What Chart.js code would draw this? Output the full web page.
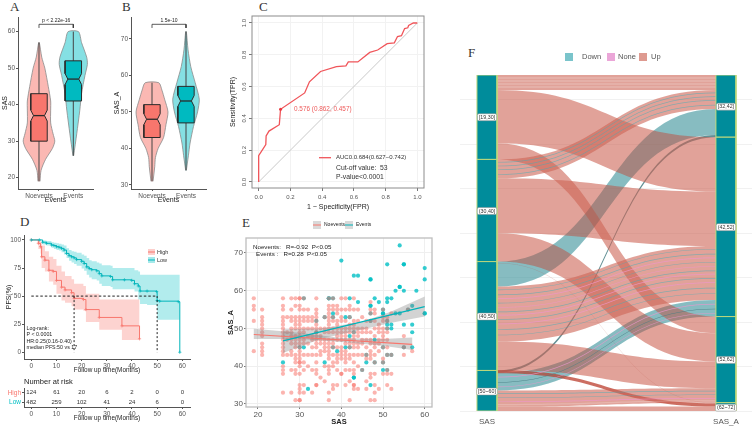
<!DOCTYPE html>
<html><head><meta charset="utf-8">
<script src="https://cdn.jsdelivr.net/npm/chart.js@4"></script>
<style>
html,body{margin:0;padding:0;background:#fff;width:752px;height:432px;overflow:hidden}
canvas{position:absolute;filter:blur(.3px)}
.letter{position:absolute;font:13px "Liberation Serif",serif;color:#333;line-height:13px}
</style></head><body>
<div class="letter" style="left:10px;top:0">A</div>
<div class="letter" style="left:122px;top:0">B</div>
<div class="letter" style="left:259px;top:0">C</div>
<div class="letter" style="left:20px;top:215px">D</div>
<div class="letter" style="left:242px;top:216px">E</div>
<div class="letter" style="left:468px;top:46px">F</div>
<script>
// ---------- Panel A / B : violins (value, half width) and box statistics ----------
const eventNames=['Noevents','Events'];
const aNoY=[19,22,25,28,30,32,35,38.5,41,45,50,53,57];
const aNoW=[.03,.06,.19,.39,.46,.41,.34,.34,.34,.27,.17,.08,.01];
const aEvY=[26,32,38.5,43,48,51,53,57,60];
const aEvW=[.01,.1,.19,.24,.34,.41,.39,.24,.15];
const aNoBox=[19,30,37,43,57];
const aEvBox=[26,41,47,52,60];
const bNoY=[31,35,37.5,40,43,46.5,50,53.5,56,58];
const bNoW=[.03,.08,.1,.18,.34,.41,.47,.37,.29,.2];
const bEvY=[34,38,41.5,46,50,53.5,58,62.4,67,72];
const bEvW=[.01,.07,.12,.22,.34,.39,.27,.14,.06,.01];
const bNoBox=[31,43,48,52,58];
const bEvBox=[34,47,53,57,72];
const aTicks=[20,30,40,50,60];
const bTicks=[30,40,50,60,70];
// ---------- Panel C : ROC ----------
const rocFPR=[0,0,.045,.047,.065,.13,.138,.29,.32,.39,.49,.55,.565,.625,.7,.75,.81,.855,.875,.9,.92,.94,.945,.975,1];
const rocTPR=[0,.165,.235,.29,.32,.36,.457,.56,.63,.695,.725,.73,.755,.755,.815,.83,.87,.875,.915,.92,.965,.97,.985,1,1];
const rocTicks=[0,.2,.4,.6,.8,1];
// ---------- Panel D : survival ----------
const lowTime=[0,3.2,4.5,6,8,9,10,11,12,13,14,15,16,17,18,20,21,22,23,24,26,27,28,31.5,32.3,37,39.9,41,42.5,43.2,46,49.8,50,51,58.4,59];
const lowSurv=[100,100,98,97,95.5,95,94,93.5,92.5,91,88,86,85,84,82.5,81,79,76,74.5,73.5,72.5,70,68,67.5,64.5,64.5,64,61,59,54.5,54.5,54,46,45.5,45,0];
const lowUpper=[100,100,99.5,99,98,97.5,97,96.5,96,95,92.5,91,90,89.5,88.5,87,86,84,82,81,80,79,77.5,77,75,75,75,73,72,69,69,69,69,69,69,69];
const lowLower=[100,100,96,95,93,92,91,90.5,89,87,84,81.5,80,78.5,77,74.5,72.5,69,66.5,65,64,61,59,58,56,56,56,54,47,43,42,42,29,29,29,29];
const highTime=[0,2.8,3.7,4.1,5.4,7,8.7,10,12,13.4,16,17,20.7,21.7,27,36,43];
const highSurv=[100,97,94,85,82,73,72,64,58,55.5,53,48,47,38,31,23.5,12];
const highUpper=[100,100,98,95,90,85,83,77,72,68,65,61,59,52,47,47,47];
const highLower=[100,92,88,75,72,63,60,52,46,44,41,38,37,27,20,11,11];
const medianTimes=[17,50];
const medianLevel=50;
const pfsTicks=[0,25,50,75,100];
const timeTicks=[0,10,20,30,40,50,60];
const riskRows=['High','Low'];
const riskHigh=[124,61,20,6,2,0,0];
const riskLow=[482,259,102,41,24,6,0];
const logRankLines=['Log-rank:','P < 0.0001','HR:0.25(0.16-0.40)','median PFS:50 vs 17'];
// ---------- Panel E : scatter (SAS, SAS_A) ----------
const noeventsColumns=[
[19,[58,56,55,52,44]],
[21,[55,53,52,51,50,49,48,46,45,44,43]],
[26,[58,56,55,53,52,51,50,49,48,47,46,45,44,43,40,39,38,33]],
[27,[53,49,47,43]],
[28,[58,55,53,52,50,49,48,47,46,44,43,39,33]],
[29,[58,56,53,52,51,50,48,47,46,45,43,42,41,39,38,31]],
[30,[58,58,56,55,53,52,51,50,49,48,47,46,45,44,43,42,41,41,40,38,35,34,33,31,31]],
[31,[58,55,53,52,50,49,47,46,43,41,39,35,33]],
[32,[55,53,52,50,48,46,43,40]],
[33,[53,52,50,48,47,45,43,39,33]],
[34,[58,55,54,53,52,51,50,49,48,47,46,45,43,41,39,38,35,35]],
[35,[50,48,47,46,44,43,37]],
[36,[53,50,49,47,46,45,44,40,36]],
[37,[58,56,55,54,53,52,51,50,49,47,46,45,44,43,42,40,39,38,33,31]],
[38,[58,56,55,53,52,50,49,47,46,45,43,41,40,35,34]],
[39,[56,55,54,52,51,50,49,48,47,45,43,42,41,39,35]],
[40,[58,55,53,52,50,49,48,47,45,44,43,42,38,38]],
[41,[58,55,52,50,49,48,47,46,44,43,42,41,39,35]],
[42,[56,55,53,51,50,49,47,46,45,43,42,39,36,31]],
[43,[58,55,52,51,50,49,48,47,46,45,43,41,39,38,35,35,34]],
[44,[55,52,50,49,48,46,45,43,40,34]],
[45,[53,50,49,47,46,43,39]],
[46,[52,50,49,47,45,43,42,36,34]],
[47,[57,55,54,52,49,47,46,44,43,42,38,37,31]],
[48,[55,54,52,50,48,46,45,43,41,38,35,33,31]],
[49,[51,50,49,47,46,44,34]],
[50,[55,53,52,50,49,48,47,45,42,41,38]],
[51,[53,52,50,49,47,45,43,39,38,35]],
[52,[54,43,38,34]],
[55,[48,45,43]],
[56,[55]],
[57,[44]]];
const eventsSAS=[54,40,51,55,55,60,43,44,47,47,60,53,54,54,55,58,52,51,51,37,37,38,42,48,44,49,47,47,57,50,50,56,47,41,42,38,36,34,31,50,53,54,60,60,51,51,52,51,52,55,57,57,48,57,55,50,31,43,46,46,52,51,26,36,42,38,39,45,43,43,47,32,50,51,50,48,38,47,42,41,30,34];
const eventsSASA=[72,68,67,67,67,66,64,64,63,63,63,60,61,61,60,60,58,58,57,58,58,54,58,58,57,57,56,56,56,55,54,55,54,53,53,53,53,52,58,54,54,54,54,54,52,51,51,50,50,51,51,49,47,45,45,45,45,49,43,41,43,43,41,41,45,45,44,39,37,37,35,34,39,39,41,41,58,52,48,45,45,49];
const noeventsFitX=[19,57];
const noeventsFitY=[48.4,45.8];
const eventsFitX=[26,60];
const eventsFitY=[46.7,55.8];
const noeventsBandX=[19,30,40,50,57];
const noeventsBandLo=[47.2,47.2,46.4,45.4,44.3];
const noeventsBandHi=[49.9,48.9,47.5,47.2,47.6];
const eventsBandX=[26,35,45,52,60];
const eventsBandLo=[43.5,47.2,49.7,51.5,53.2];
const eventsBandHi=[49.8,50,51.8,54.5,58.5];
const sasTicks=[20,30,40,50,60];
const sasATicks=[30,40,50,60,70];
// ---------- Panel F : alluvial (stack heights, counted from the bottom) ----------
const axisNames=['SAS','SAS_A'];
const leftStrata=[['[19,30]',605,453,529],['(30,40]',453,269,360],['(40,50]',269,73,170],['[50~60]',73,0,35]];
const rightStrata=[['[32,42]',605,493,548],['(42,52]',493,170,331],['(52,62]',170,15,92],['(62~72]',15,0,6]];
const flowLeftTop=[269,73,69,267,605,578,482,453,419,320,224,125,74,37,8];
const flowLeftBot=[224,69,37,266,578,482,453,419,320,269,125,74,68,8,0];
const flowRightTop=[544,497,200,15,605,493,170,578,395,140,297,89,14,41,8];
const flowRightBot=[497,493,170,14,578,395,140,544,297,89,200,41,8,15,0];
const flowKind=['Down','Thin','Down','Faint','Up','Up','Up','Up','Up','Up','Up','Up','Deep','Up','Up'];
const stripeFlow=[4,4,4,4,7,7,7,7,10,10,10,10,10,10,10,10,10,10,10,2,2,2,13,13,13,13];
const stripeFrac=[.2,.4,.6,.8,.15,.35,.55,.8,.06,.15,.22,.3,.38,.46,.52,.6,.68,.78,.88,.25,.55,.8,.2,.45,.7,.88];
const stripeKind=['Lite','Lite','Lite','Lite','Down','Down','Down','Down','Down','Down','None','Down','None','Down','None','Down','None','Down','Down','None','Thin','None','Down','Down','None','Lite'];
const legendNames=['Down','None','Up'];
const gridCounts=[0,80,160,240,320,400,480,560];
</script>
<script>
Chart.defaults.font.family='"Liberation Sans",Arial,sans-serif';
Chart.defaults.animation=false;
const RED='#F8766D',TEAL='#00BFC4',GREY='#555';
const zip=(xs,ys)=>xs.map((x,i)=>({x,y:ys[i]}));
function text(c,s,x,y,o={}){c.save();c.font=o.font||'6px "Liberation Sans",Arial,sans-serif';c.fillStyle=o.color||'#333';c.textAlign=o.align||'left';c.textBaseline='middle';c.translate(x,y);if(o.rot)c.rotate(o.rot);c.fillText(s,0,0);c.restore();}
function line(c,x0,y0,x1,y1,col,w,dash){c.save();c.strokeStyle=col;c.lineWidth=w||1;if(dash)c.setLineDash(dash);c.beginPath();c.moveTo(x0,y0);c.lineTo(x1,y1);c.stroke();c.restore();}
function panel(rect,plot,datasets,sx,sy,deco,plugins){
  const cv=document.createElement('canvas');
  cv.width=rect.r-rect.l;cv.height=rect.b-rect.t;
  cv.style.left=rect.l+'px';cv.style.top=rect.t+'px';cv.style.width=cv.width+'px';cv.style.height=cv.height+'px';
  document.body.appendChild(cv);
  datasets.forEach((d,i)=>{d.order=-i;if(d.pointRadius===undefined)d.pointRadius=0;});
  sx.afterFit=s=>{s.height=rect.b-plot.b;};
  sy.afterFit=s=>{s.width=plot.l-rect.l;};
  const inline=[{id:'deco',afterDatasetsDraw(ch){if(!deco)return;const c=ch.ctx;c.save();c.translate(-rect.l,-rect.t);
     deco(c,v=>ch.scales.x.getPixelForValue(v)+rect.l,v=>ch.scales.y.getPixelForValue(v)+rect.t,ch,rect);c.restore();}}];
  return new Chart(cv,{type:'line',data:{datasets},plugins:inline.concat(plugins||[]),options:{responsive:false,animation:false,
    layout:{padding:{top:plot.t-rect.t,right:rect.r-plot.r,left:0,bottom:0}},
    plugins:{legend:{display:false},tooltip:{enabled:false},title:{display:false}},
    scales:{x:sx,y:sy}}});
}
const setTicks=arr=>s=>{s.ticks=arr.map(v=>({value:v}));};
function axis(min,max,ticks,extra){return Object.assign({type:'linear',min,max,afterBuildTicks:setTicks(ticks),
   grid:{drawOnChartArea:false,tickLength:2,color:'#555'},border:{color:'#555',width:1},
   ticks:{font:{size:6.5},color:GREY,padding:1,autoSkip:false,maxRotation:0,minRotation:0}},extra||{});}
function title(t,size,pad,bold){return {display:true,text:t,color:'#222',font:{size,weight:bold?'bold':'normal'},padding:pad};}
function area(d,fillCol,edge,w){return {data:d,fill:'shape',backgroundColor:fillCol,borderColor:edge,borderWidth:w};}
function lineSet(d,col,w,dash){return {data:d,fill:false,borderColor:col,borderWidth:w,borderDash:dash||[]};}
function violinPts(c,ys,ws){return ys.map((y,i)=>({x:c-ws[i],y})).concat(ys.map((y,i)=>({x:c+ws[i],y})).reverse());}
function boxPts(c,st,n){const[,q1,m,q3]=st,h=.24,k=.16;
  return [{x:c-h,y:q1},{x:c+h,y:q1},{x:c+h,y:m-n},{x:c+k,y:m},{x:c+h,y:m+n},{x:c+h,y:q3},{x:c-h,y:q3},{x:c-h,y:m+n},{x:c-k,y:m},{x:c-h,y:m-n},{x:c-h,y:q1}];}
function violinSets(c,ys,ws,st,col,fill,n){const[lo,,m,,hi]=st,k=.16;
  const v=area(violinPts(c,ys,ws),fill,'#8a8a8a',.8);v.tension=.25;
  return [v,lineSet([{x:c,y:lo},{x:c,y:hi}],'#444',1),area(boxPts(c,st,n),col,'#2b2b2b',1),lineSet([{x:c-k,y:m},{x:c+k,y:m}],'#2b2b2b',1.3)];}
function violinPanel(rect,plot,xr,yr,ticks,yName,sets,brY,brLab){
  const sx=axis(xr[0],xr[1],[1,2],{title:title('Events',7,{top:0,bottom:5.5})});
  sx.ticks.callback=v=>eventNames[v-1];sx.ticks.font={size:6.5};
  const sy=axis(yr[0],yr[1],ticks,{title:title(yName,7,{top:1,bottom:0})});
  const ds=sets.concat([lineSet([{x:1,y:brY[1]},{x:1,y:brY[0]},{x:2,y:brY[0]},{x:2,y:brY[1]}],'#333',.8)]);
  panel(rect,plot,ds,sx,sy,(c,X,Y)=>text(c,brLab,X(1.5),Y(brY[0])-3.5,{align:'center',font:'5px "Liberation Sans",Arial,sans-serif',color:'#222'}));
}
const RF='rgba(248,118,109,.52)',TF='rgba(0,191,196,.48)';
violinPanel({l:0,t:10,r:112,b:210},{l:18,r:93,t:17,b:189},[.388,2.574],[16.9,64],aTicks,'SAS',
  violinSets(1,aNoY,aNoW,aNoBox,RED,RF,1.5).concat(violinSets(2,aEvY,aEvW,aEvBox,'#00BAC0',TF,1.5)),[62,61],'p < 2.22e-16');
violinPanel({l:112,t:10,r:225,b:210},{l:131,r:206,t:17,b:189},[.382,2.588],[28.9,76],bTicks,'SAS_A',
  violinSets(1,bNoY,bNoW,bNoBox,RED,RF,1.5).concat(violinSets(2,bEvY,bEvW,bEvBox,'#00BAC0',TF,1.5)),[74,73],'1.5e-10');

// ---------- C ----------
(function(){
  const f=v=>v.toFixed(1);
  const faint={drawOnChartArea:true,tickLength:3,color:'#f2f2f2',tickColor:'#777'};
  const sx=axis(-.042,1.042,rocTicks,{grid:faint,border:{display:false},title:title('1 − Specificity(FPR)',7,{top:0,bottom:3})});
  sx.ticks.callback=f;sx.ticks.font={size:6};sx.ticks.padding=3;
  const sy=axis(-.038,1.044,rocTicks,{grid:faint,border:{display:false},title:title('Sensitivity(TPR)',7,{top:1,bottom:0})});
  sy.ticks.callback=f;sy.ticks.font={size:6};sy.ticks.minRotation=90;sy.ticks.maxRotation=90;sy.ticks.crossAlign='center';sy.ticks.padding=0;
  panel({l:228,t:8,r:430,b:214},{l:252,r:424,t:16,b:188},[
    lineSet([{x:0,y:0},{x:1,y:1}],'#c9c9c9',1),
    lineSet(zip(rocFPR,rocTPR),'#F0555A',1.3),
    {data:[{x:.138,y:.457}],showLine:false,pointRadius:1.5,pointBackgroundColor:'#E83A40',pointBorderWidth:0}
  ],sx,sy,(c,X,Y,ch,r)=>{
    const a=ch.chartArea;c.strokeStyle='#8c8c8c';c.lineWidth=1;c.strokeRect(r.l+a.left,r.t+a.top,a.right-a.left,a.bottom-a.top);
    text(c,'0.576 (0.862, 0.457)',294,109,{color:'#EE5A5A',font:'6.4px "Liberation Sans",Arial,sans-serif'});
    line(c,319,157.7,331,157.7,'#F0555A',1.3);
    text(c,'AUC0.0.684(0.627−0.742)',336,157.7,{font:'6px "Liberation Sans",Arial,sans-serif'});
    text(c,'Cut-off value:  53',336,168,{font:'6.8px "Liberation Sans",Arial,sans-serif'});
    text(c,'P-value<0.0001',336,176.7,{font:'6.8px "Liberation Sans",Arial,sans-serif'});
  });
})();

// ---------- D ----------
(function(){
  const sx=axis(-2.9,63.05,timeTicks,{title:title('Follow up time(Months)',6.4,{top:0,bottom:3.8})});
  const sy=axis(-6,104.4,pfsTicks,{title:title('PFS(%)',7,{top:4.5,bottom:0})});
  const up=(t,v,fillCol)=>({data:zip(t,v),stepped:true,fill:'+1',backgroundColor:fillCol,borderWidth:0,borderColor:'transparent'});
  const lo=(t,v)=>({data:zip(t,v),stepped:true,fill:false,borderWidth:0,borderColor:'transparent'});
  const curve=(t,v,col)=>({data:zip(t,v),stepped:true,fill:false,borderColor:col,borderWidth:1,pointStyle:'cross',pointRadius:1.6,pointBorderColor:col,pointBorderWidth:.7});
  panel({l:0,t:228,r:200,b:378},{l:24,r:190,t:235,b:359},[
    up(lowTime,lowUpper,'rgba(0,191,196,.3)'),
    lo(lowTime,lowLower),
    up(highTime,highUpper,'rgba(248,118,109,.32)'),
    lo(highTime,highLower),
    curve(highTime,highSurv,RED),
    curve(lowTime,lowSurv,'#00B4BA'),
    lineSet([{x:0,y:medianLevel},{x:medianTimes[1],y:medianLevel}],'#222',1,[2.5,2]),
    lineSet([{x:medianTimes[0],y:medianLevel},{x:medianTimes[0],y:0}],'#222',1,[2,2]),
    lineSet([{x:medianTimes[1],y:medianLevel},{x:medianTimes[1],y:0}],'#222',1,[2,2])
  ],sx,sy,(c)=>{
    [[329,0],[335,1],[342,2],[348,3]].forEach(([y,i])=>text(c,logRankLines[i],26.5,y,{font:'5.3px "Liberation Sans",Arial,sans-serif',color:'#222'}));
    c.fillStyle='rgba(248,118,109,.35)';c.fillRect(148,249,7,6);line(c,148,252,155,252,RED,1);
    c.fillStyle='rgba(0,191,196,.35)';c.fillRect(148,257,7,6);line(c,148,260,155,260,'#00B4BA',1);
    text(c,'High',157,252,{font:'5.5px "Liberation Sans",Arial,sans-serif'});
    text(c,'Low',157,260,{font:'5.5px "Liberation Sans",Arial,sans-serif'});
  });
  const rx=axis(-2.9,63.05,timeTicks,{title:title('Follow up time(Months)',6.4,{top:0,bottom:9.5})});
  const ry={type:'category',labels:riskRows,offset:true,grid:{drawOnChartArea:false,tickLength:2,color:'#555'},border:{color:'#555'},
    ticks:{font:{size:6.5},padding:1,autoSkip:false,color:c=>c.index===0?RED:TEAL}};
  panel({l:0,t:378,r:200,b:432},{l:24,r:190,t:388,b:407},[
    {data:timeTicks.map((x,i)=>({x,y:riskRows[0]})),showLine:false},
    {data:timeTicks.map((x,i)=>({x,y:riskRows[1]})),showLine:false}
  ],rx,ry,(c,X,Y)=>{
    text(c,'Number at risk',24,382,{font:'7.5px "Liberation Sans",Arial,sans-serif',color:'#222'});
    timeTicks.forEach((t,i)=>{text(c,String(riskHigh[i]),X(t),Y(riskRows[0]),{align:'center',font:'6px "Liberation Sans",Arial,sans-serif'});
      text(c,String(riskLow[i]),X(t),Y(riskRows[1]),{align:'center',font:'6px "Liberation Sans",Arial,sans-serif'});});
  });
})();

// ---------- E ----------
(function(){
  const g={drawOnChartArea:true,tickLength:2,color:'#efefef',tickColor:'#777'};
  const sx=axis(17.13,61.75,sasTicks,{grid:g,border:{display:false},title:title('SAS',7.5,{top:0,bottom:4},true)});
  sx.ticks.font={size:8};
  const sy=axis(29.2,73.97,sasATicks,{grid:g,border:{display:false},title:title('SAS_A',7.5,{top:.5,bottom:0},true)});
  sy.ticks.font={size:8};
  const noPts=[];noeventsColumns.forEach(([x,ys])=>ys.forEach(y=>noPts.push({x,y})));
  const pts=(d,col)=>({data:d,showLine:false,pointRadius:2.1,pointBackgroundColor:col,pointBorderWidth:0});
  const bandPts=(xs,lo,hi)=>zip(xs,lo).concat(zip(xs,hi).reverse());
  panel({l:226,t:215,r:436,b:430},{l:246,r:432,t:238,b:407},[
    pts(zip(eventsSAS,eventsSASA),'rgba(0,191,196,.8)'),
    pts(noPts,'rgba(248,118,109,.55)'),
    area(bandPts(noeventsBandX,noeventsBandLo,noeventsBandHi),'rgba(130,130,130,.35)','transparent',0),
    area(bandPts(eventsBandX,eventsBandLo,eventsBandHi),'rgba(130,130,130,.35)','transparent',0),
    lineSet(zip(noeventsFitX,noeventsFitY),RED,1.2),
    lineSet(zip(eventsFitX,eventsFitY),'#00B4BA',1.2)
  ],sx,sy,(c,X,Y,ch,r)=>{
    const a=ch.chartArea;c.strokeStyle='#bdbdbd';c.lineWidth=1.3;c.strokeRect(r.l+a.left,r.t+a.top,a.right-a.left,a.bottom-a.top);
    const f='6.2px "Liberation Sans",Arial,sans-serif';
    text(c,'Noevents:   R=-0.92  P<0.05',253,247,{font:f,color:'#222'});
    text(c,'Events :   R=0.28  P<0.05',256,254,{font:f,color:'#222'});
    c.fillStyle='#d9d9d9';c.fillRect(313,221,8,8);c.fillRect(345,221,8,8);
    line(c,313,225,321,225,RED,1);line(c,345,225,353,225,'#00B4BA',1);
    const lf='5px "Liberation Sans",Arial,sans-serif';
    text(c,'Noevents',324,225,{font:lf,color:'#222'});text(c,'Events',356,225,{font:lf,color:'#222'});
  });
})();

// ---------- F ----------
(function(){
  const fill={Up:'rgba(205,100,85,.6)',Down:'rgba(60,175,185,.55)',Faint:'rgba(190,110,100,.35)',Thin:'rgba(70,125,130,.85)',Deep:'rgba(195,85,70,.85)',
    None:'rgba(238,150,205,.8)',Lite:'rgba(255,255,255,.2)',Shade:'rgba(60,60,60,.15)'};
  const thick={Lite:1.2,None:.6,Down:.55,Thin:.5};
  const ribbon=(c,x0,x1,lt,lb,rt,rb,col)=>{const m=(x0+x1)/2;c.fillStyle=col;c.beginPath();c.moveTo(x0,lt);
    c.bezierCurveTo(m,lt,m,rt,x1,rt);c.lineTo(x1,rb);c.bezierCurveTo(m,rb,m,lb,x0,lb);c.closePath();c.fill();};
  const flows={id:'flows',beforeDatasetsDraw(ch){
    const c=ch.ctx,X=ch.scales.x,Y=ch.scales.y,x0=X.getPixelForValue(1.042),x1=X.getPixelForValue(1.958);
    const p=v=>Y.getPixelForValue(v);
    const one=(i,col)=>ribbon(c,x0,x1,p(flowLeftTop[i]),p(flowLeftBot[i]),p(flowRightTop[i]),p(flowRightBot[i]),col);
    flowKind.forEach((k,i)=>one(i,fill[k]));
    flowKind.forEach((k,i)=>{if(k==='Down')one(i,fill.Shade);});
    stripeFlow.forEach((f,j)=>{const q=stripeFrac[j],k=stripeKind[j],t=thick[k];
      const L=flowLeftTop[f]+(flowLeftBot[f]-flowLeftTop[f])*q,R=flowRightTop[f]+(flowRightBot[f]-flowRightTop[f])*q;
      ribbon(c,x0,x1,p(L+t),p(L-t),p(R+t),p(R-t),fill[k]);});
  }};
  const sx=axis(.887,2.109,[1,2],{grid:{display:false,tickLength:0,drawTicks:false},border:{display:false}});
  sx.ticks.callback=v=>axisNames[v-1];sx.ticks.font={size:8};sx.ticks.padding=6;sx.ticks.color='#555';
  const sy=axis(0,605,gridCounts,{grid:{drawOnChartArea:true,color:'#f1f1f1',drawTicks:false},border:{display:false}});
  sy.ticks.display=false;
  const stratum=(c,s)=>area([{x:c-.042,y:s[1]},{x:c+.042,y:s[1]},{x:c+.042,y:s[2]},{x:c-.042,y:s[2]},{x:c-.042,y:s[1]}],'#008C9B','#BFD87C',1);
  panel({l:460,t:45,r:752,b:432},{l:460,r:752,t:75,b:411},
    leftStrata.map(s=>stratum(1,s)).concat(rightStrata.map(s=>stratum(2,s))),sx,sy,(c,X,Y)=>{
    const f='5.3px "Liberation Sans",Arial,sans-serif';
    const tag=(s,cx)=>{const y=Y(s[3]),x=X(cx);c.font=f;const w=c.measureText(s[0]).width+3;c.fillStyle='#fff';c.strokeStyle='#888';c.lineWidth=.5;
      c.beginPath();c.roundRect(x-w/2,y-3.5,w,7,1.5);c.fill();c.stroke();text(c,s[0],x,y,{align:'center',font:f,color:'#333'});};
    leftStrata.forEach(s=>tag(s,1));rightStrata.forEach(s=>tag(s,2));
    const lf='7.5px "Liberation Sans",Arial,sans-serif';
    [[565,582,'rgba(50,165,175,.65)',0],[607,618,'#EBA6D8',1],[639,651,'rgba(205,100,85,.65)',2]].forEach(([a,b,col,i])=>{
      c.fillStyle=col;c.fillRect(a,53,8,8);text(c,legendNames[i],b,57,{font:lf,color:'#555'});});
  },[flows]);
})();
</script>
</body></html>
